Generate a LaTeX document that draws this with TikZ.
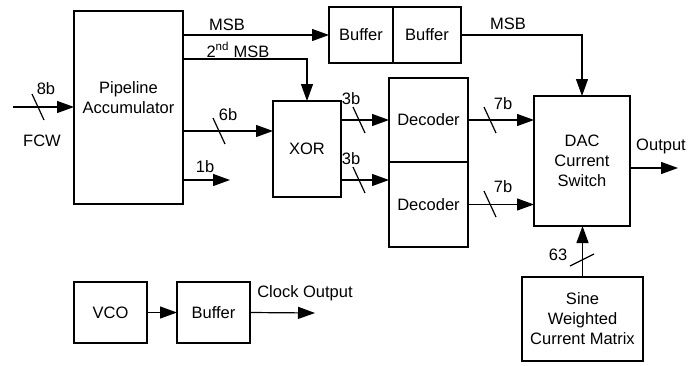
\documentclass[tikz,border=0pt]{standalone}
\usepackage{fontspec}
\setmainfont{Liberation Sans}
\usetikzlibrary{arrows.meta,calc}
\tikzset{
  dds text/.style={font=\fontsize{16.5}{20}\selectfont, text=black},
  dds block/.style={draw=black, line width=1.7pt, fill=white, inner sep=0pt,
    outer sep=0pt, align=center},
  dds sig/.style={-{Triangle[length=17pt,width=12pt]}, line width=1.2pt, draw=black},
  dds label/.style={inner sep=0pt, anchor=center},
  bus/.pic={\draw[line width=1.2pt] (-6,-13) -- (6,13);},
  vbus/.pic={\draw[line width=1.2pt] (-12,6) -- (12,-6);}
}
\begin{document}
\begin{tikzpicture}[dds text, x=1pt, y=-1pt]
  \useasboundingbox (0,0) rectangle (698,365);
  % blocks
  \node[dds block, minimum width=109, minimum height=193, anchor=north west] (acc) at (74,11) {};
  \node[dds label, align=center] (acctxt) at (128.5,98) {Pipeline\\Accumulator};
  \node[dds block, minimum width=64, minimum height=56, anchor=north west] (buf1) at (329,7) {Buffer};
  \node[dds block, minimum width=68, minimum height=56, anchor=north west] (buf2) at (393,7) {Buffer};
  \node[dds block, minimum width=68, minimum height=96, anchor=north west] (xor) at (273,101) {XOR};
  \node[dds block, minimum width=79, minimum height=84, anchor=north west] (dec1) at (389,78) {Decoder};
  \node[dds block, minimum width=79, minimum height=85, anchor=north west] (dec2) at (389,162) {Decoder};
  \node[dds block, minimum width=96, minimum height=130, anchor=north west] (dac) at (534,96) {DAC\\Current\\Switch};
  \node[dds block, minimum width=121, minimum height=84, anchor=north west] (sine) at (522,277) {Sine\\Weighted\\Current Matrix};
  \node[dds block, minimum width=73, minimum height=61, anchor=north west] (vco) at (74,282) {VCO};
  \node[dds block, minimum width=73, minimum height=61, anchor=north west] (cbuf) at (177,282) {Buffer};
  % free ends and entry points
  \coordinate (fcwin) at (13,107);
  \coordinate (msbtwo) at (183,59);
  \coordinate (xorin) at (273,131);
  \coordinate (onebend) at (230,180);
  \coordinate (decin) at (389,180);
  \coordinate (outend) at (678,168);
  \coordinate (clkend) at (315,313);
  % connectors
  \draw[dds sig] (fcwin) -- (acc.west |- fcwin);
  \draw[dds sig] (acc.east |- buf1.west) -- (buf1.west);
  \draw[dds sig] (acc.east |- msbtwo) -- (xor.north |- msbtwo) -- (xor.north);
  \draw[dds sig] (acc.east |- xorin) -- (xorin);
  \draw[dds sig] (acc.east |- onebend) -- (onebend);
  \draw[dds sig] (xor.east |- dec1.west) -- (dec1.west);
  \draw[dds sig] (xor.east |- decin) -- (decin);
  \draw[dds sig] (dec1.east) -- (dac.west |- dec1.east);
  \draw[dds sig] (dec2.east) -- (dac.west |- dec2.east);
  \draw[dds sig] (buf2.east) -- (dac.north |- buf2.east) -- (dac.north);
  \draw[dds sig] (dac.east |- outend) -- (outend);
  \draw[dds sig] (sine.north) -- (sine.north |- dac.south);
  \draw[dds sig] (vco.east) -- (cbuf.west);
  \draw[dds sig] (cbuf.east) -- (clkend);
  % bus widths
  \pic at (38,107) {bus};
  \pic at (219,131) {bus};
  \pic at (359,120) {bus};
  \pic at (359,180) {bus};
  \pic at (490,120) {bus};
  \pic at (490,204) {bus};
  \pic at (582,260) {vbus};
  % labels
  \node[dds label] (lbeight) at (46,89) {8b};
  \node[dds label] (lbfcw) at (42,141) {FCW};
  \node[dds label] (lbmsb) at (227,25) {MSB};
  \node[dds label] (lbmsbtwo) at (238,50) {2\textsuperscript{nd} MSB};
  \node[dds label] (lbsix) at (228,115) {6b};
  \node[dds label] (lbone) at (205,167) {1b};
  \node[dds label] (lbthreea) at (351,99) {3b};
  \node[dds label] (lbthreeb) at (351,159) {3b};
  \node[dds label] (lbsevena) at (503,104) {7b};
  \node[dds label] (lbsevenb) at (503,187) {7b};
  \node[dds label] (lbmsbr) at (508,24) {MSB};
  \node[dds label] (lbout) at (661,146) {Output};
  \node[dds label] (lbsixty) at (558,255) {63};
  \node[dds label] (lbclk) at (305,293) {Clock Output};
\end{tikzpicture}
\end{document}
